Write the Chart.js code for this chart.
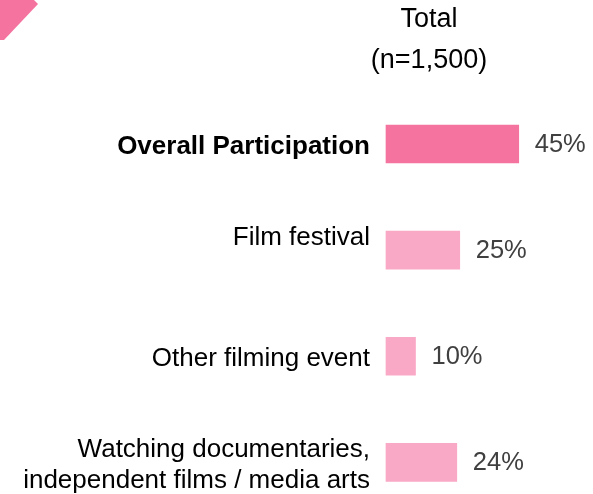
<!DOCTYPE html>
<html>
<head>
<meta charset="utf-8">
<script src="https://cdn.jsdelivr.net/npm/chart.js@4/dist/chart.umd.min.js"></script>
<style>
  html, body { margin: 0; padding: 0; background: #fff; }
  #wrap { width: 593px; height: 494px; }
</style>
</head>
<body>
<div id="wrap"><canvas id="c" width="593" height="494"></canvas></div>
<script>
const categories = ['Overall Participation', 'Film festival', 'Other filming event', 'Watching documentaries, independent films / media arts'];
const categoryLines = [['Overall Participation'], ['Film festival', ''], ['Other filming event'], ['Watching documentaries,', 'independent films / media arts']];
const values = [45, 25, 10, 24];
const titleLines = ['Total', '(n=1,500)'];
const barColors = ['#F4739F', '#F9A9C6', '#F9A9C6', '#F9A9C6'];

const FONT = "'Liberation Sans', Arial, sans-serif";

const decor = {
  id: 'decor',
  beforeDraw(chart) {
    const ctx = chart.ctx;
    ctx.save();
    ctx.fillStyle = '#F4739F';
    ctx.beginPath();
    ctx.moveTo(0, 0);
    ctx.lineTo(34, 0);
    ctx.lineTo(38, 4);
    ctx.lineTo(4, 40);
    ctx.lineTo(0, 40);
    ctx.closePath();
    ctx.fill();
    ctx.fillStyle = '#000';
    ctx.font = '27px ' + FONT;
    ctx.textAlign = 'center';
    ctx.textBaseline = 'middle';
    ctx.fillText(titleLines[0], 429, 20);
    ctx.fillText(titleLines[1], 429, 61);
    ctx.restore();
  },
  afterDatasetsDraw(chart) {
    const ctx = chart.ctx;
    const meta = chart.getDatasetMeta(0);
    ctx.save();
    ctx.fillStyle = '#404040';
    ctx.font = '25.5px ' + FONT;
    ctx.textAlign = 'left';
    ctx.textBaseline = 'middle';
    meta.data.forEach((bar, i) => {
      ctx.fillText(values[i] + '%', bar.x + 16, bar.y + 1);
    });
    ctx.restore();
  }
};

new Chart(document.getElementById('c'), {
  type: 'bar',
  data: {
    labels: categories,
    datasets: [{
      data: values,
      backgroundColor: barColors,
      borderWidth: 0,
      barThickness: 38,
      clip: false
    }]
  },
  options: {
    indexAxis: 'y',
    responsive: false,
    animation: false,
    layout: { padding: { left: 0, right: 30, top: 144, bottom: 29 } },
    plugins: { legend: { display: false }, tooltip: { enabled: false }, title: { display: false } },
    scales: {
      x: { display: false, min: 0, max: 60 },
      y: {
        offset: false,
        grid: { display: false, drawTicks: false },
        border: { display: false },
        afterFit(scale) { scale.width = 386; },
        ticks: {
          padding: 16,
          labelOffset: 3,
          color: '#000',
          autoSkip: false,
          font: (c) => ({ family: FONT, size: 26, lineHeight: 1.2, weight: c.index === 0 ? 'bold' : 'normal' }),
          callback: (v, i) => categoryLines[i]
        }
      }
    }
  },
  plugins: [decor]
});
</script>
</body>
</html>
